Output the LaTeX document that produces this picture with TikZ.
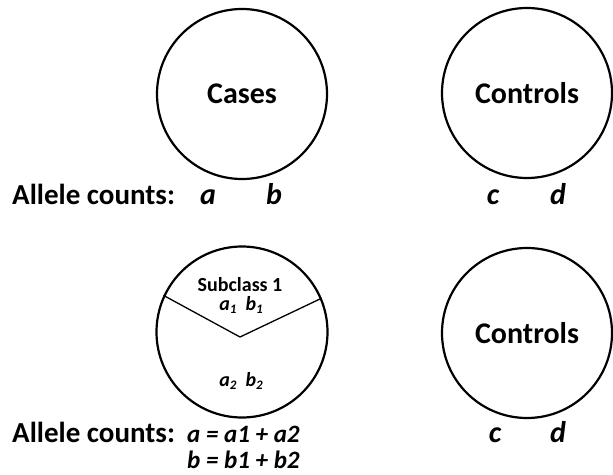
\documentclass[tikz,border=0pt]{standalone}
\usepackage{fontspec}
\setmainfont{Carlito}
\usetikzlibrary{shapes.geometric, positioning}

\newcommand{\sbs}[1]{\raisebox{-0.35ex}{\fontsize{13}{15}\selectfont #1}}

\tikzset{
  group/.style={draw, circle, line width=2.2pt, inner sep=0pt, minimum size=170pt, font=\bfseries\fontsize{30}{34}\selectfont},
  lbl/.style={font=\bfseries\fontsize{29}{33}\selectfont, anchor=base west, inner sep=0pt},
  cnt/.style={font=\bfseries\itshape\fontsize{30}{34}\selectfont, anchor=base, inner sep=0pt},
  small/.style={font=\bfseries\fontsize{20}{24}\selectfont, anchor=base, inner sep=0pt},
  smallit/.style={font=\bfseries\itshape\fontsize{20}{24}\selectfont, anchor=base, inner sep=0pt},
  sum/.style={font=\bfseries\itshape\fontsize{25}{29}\selectfont, anchor=base west, inner sep=0pt}
}

\begin{document}
\begin{tikzpicture}[x=1pt, y=-1pt]
  \useasboundingbox (0,0) rectangle (613,474);
  % Top row
  \node[group] (cases) at (242,94) {Cases};
  \node[group] (ctrl) at (527,93) {Controls};
  \node[lbl] (allele) at (12,204) {Allele counts:};
  \node[cnt] (a) at (208,204) {a};
  \node[cnt] (b) at (274,204) {b};
  \node[cnt] (c) at (493,204) {c};
  \node[cnt] (d) at (558,204) {d};
  % Bottom row
  \node[group, minimum size=171pt] (sub) at (242,332) {};
  \coordinate (apex) at (240,337);
  \draw[line width=1.3pt] (sub.155) -- (apex) -- (sub.23);
  \node[small] (subname) at (240,291) {Subclass 1};
  \node[smallit] (ab1) at (241,310) {a\sbs{1}\ \ b\sbs{1}};
  \node[smallit] (ab2) at (241,386) {a\sbs{2}\ \ b\sbs{2}};
  \node[group] (ctrl2) at (527,333) {Controls};
  \node[lbl] (allele2) at (12,442) {Allele counts:};
  \node[sum] (suma) at (187,442) {a = a1 + a2};
  \node[sum] (sumb) at (187,468) {b = b1 + b2};
  \node[cnt] (c2) at (495,442) {c};
  \node[cnt] (d2) at (558,442) {d};
\end{tikzpicture}
\end{document}
